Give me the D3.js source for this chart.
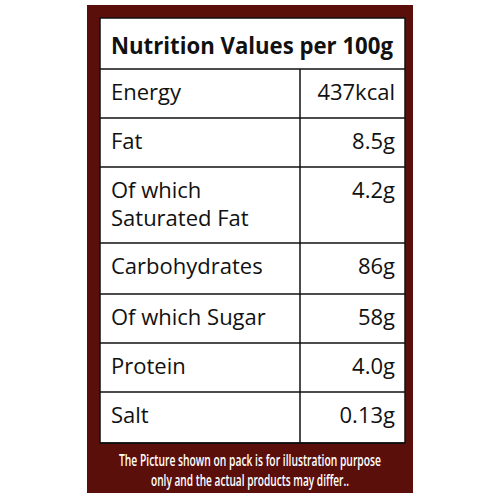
<!DOCTYPE html>
<html><head><meta charset="utf-8">
<script src="https://cdn.jsdelivr.net/npm/d3@7"></script>
<style>body{margin:0;background:#fff}</style>
</head><body>
<script>
var title = "Nutrition Values per 100g";
var labels = [["Energy"], ["Fat"], ["Of which", "Saturated Fat"], ["Carbohydrates"], ["Of which Sugar"], ["Protein"], ["Salt"]];
var values = ["437kcal", "8.5g", "4.2g", "86g", "58g", "4.0g", "0.13g"];
var rowBounds = [69, 118, 167, 243, 294, 343, 392, 443];
var note = ["The Picture shown on pack is for illustration purpose", "only and the actual products may differ.."];

var svg = d3.select("body").append("svg").attr("width", 500).attr("height", 500);
var font = "'Open Sans', sans-serif";

svg.append("rect").attr("x", 87).attr("y", 5).attr("width", 326).attr("height", 488).attr("fill", "#5a0f0a");
svg.append("rect").attr("x", 100).attr("y", 18).attr("width", 305).attr("height", 425)
    .attr("fill", "#fff").attr("stroke", "#111").attr("stroke-width", 1.5);

svg.append("text").attr("x", 252).attr("y", 54).attr("text-anchor", "middle")
    .attr("font-family", font).attr("font-weight", "bold").attr("font-size", 23)
    .attr("textLength", 282).attr("lengthAdjust", "spacingAndGlyphs").attr("fill", "#111").text(title);

var y = d3.scaleOrdinal().domain(d3.range(8)).range(rowBounds);
var colX = 300;

d3.range(8).forEach(function (i) {
    svg.append("line").attr("x1", 100).attr("x2", 405).attr("y1", y(i)).attr("y2", y(i))
        .attr("stroke", "#111").attr("stroke-width", 1.5);
});
svg.append("line").attr("x1", colX).attr("x2", colX).attr("y1", rowBounds[0]).attr("y2", rowBounds[7])
    .attr("stroke", "#111").attr("stroke-width", 1.5);

labels.forEach(function (lab, i) {
    var top = y(i);
    lab.forEach(function (line, j) {
        svg.append("text").attr("x", 111).attr("y", top + 31 + j * 28)
            .attr("font-family", font).attr("font-size", 22).attr("fill", "#111").text(line);
    });
    svg.append("text").attr("x", 395).attr("y", top + 31).attr("text-anchor", "end")
        .attr("font-family", font).attr("font-size", 22).attr("fill", "#111").text(values[i]);
});

note.forEach(function (line, j) {
    var len = j == 0 ? 262 : 198;
    svg.append("text").attr("x", 250).attr("y", 466 + j * 20).attr("text-anchor", "middle")
        .attr("font-family", font).attr("font-weight", "600").attr("font-size", 16)
        .attr("textLength", len).attr("lengthAdjust", "spacingAndGlyphs")
        .attr("fill", "#fff").text(line);
});
</script>
</body></html>
